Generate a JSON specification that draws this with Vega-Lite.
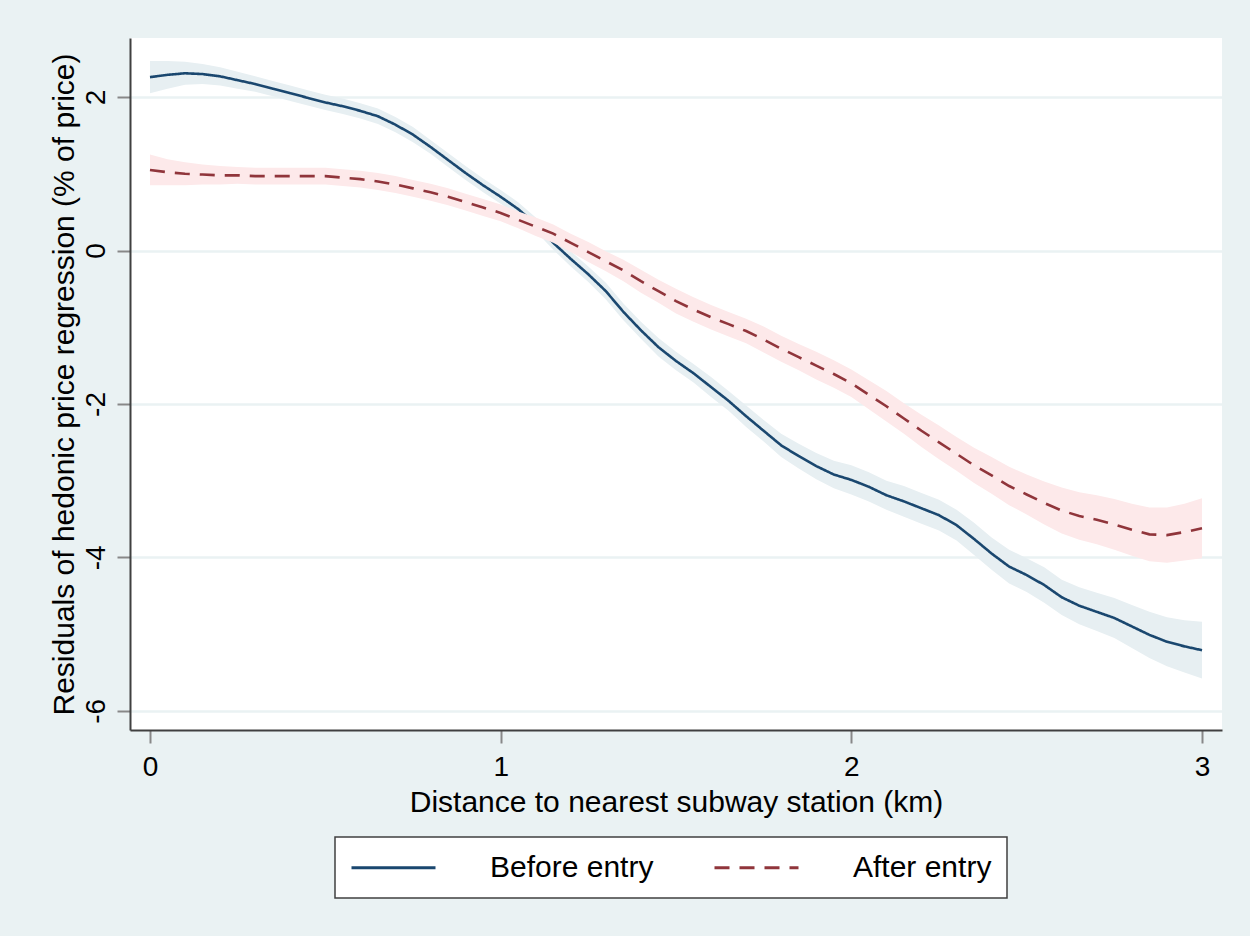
{
"$schema": "https://vega.github.io/schema/vega-lite/v6.json",
"width": 1092, "height": 692,
"autosize": {"type": "none"},
"padding": {"left": 130, "top": 38, "right": 28, "bottom": 206},
"background": "#eaf2f3",
"config": {
  "view": {"fill": "white", "stroke": null},
  "font": "Liberation Sans",
  "axis": {"labelColor": "black", "titleColor": "black", "titleFontWeight": "normal", "tickColor": "#888888", "tickWidth": 2, "tickSize": 13, "domainColor": "#404040", "domainWidth": 2, "labelFontSize": 28, "titleFontSize": 30, "labelFlush": false},
  "legend": {"strokeWidth": 1.5}
},
"data": {"values": [
{"series":"Before entry","x":0.00,"y":2.26,"lo":2.05,"hi":2.47},
{"series":"Before entry","x":0.05,"y":2.29,"lo":2.11,"hi":2.47},
{"series":"Before entry","x":0.10,"y":2.31,"lo":2.16,"hi":2.46},
{"series":"Before entry","x":0.15,"y":2.30,"lo":2.17,"hi":2.43},
{"series":"Before entry","x":0.20,"y":2.27,"lo":2.15,"hi":2.39},
{"series":"Before entry","x":0.25,"y":2.22,"lo":2.11,"hi":2.33},
{"series":"Before entry","x":0.30,"y":2.17,"lo":2.07,"hi":2.27},
{"series":"Before entry","x":0.35,"y":2.11,"lo":2.01,"hi":2.21},
{"series":"Before entry","x":0.40,"y":2.05,"lo":1.95,"hi":2.15},
{"series":"Before entry","x":0.45,"y":1.99,"lo":1.89,"hi":2.09},
{"series":"Before entry","x":0.50,"y":1.93,"lo":1.83,"hi":2.03},
{"series":"Before entry","x":0.55,"y":1.88,"lo":1.78,"hi":1.98},
{"series":"Before entry","x":0.60,"y":1.82,"lo":1.72,"hi":1.92},
{"series":"Before entry","x":0.65,"y":1.75,"lo":1.65,"hi":1.85},
{"series":"Before entry","x":0.70,"y":1.64,"lo":1.54,"hi":1.74},
{"series":"Before entry","x":0.75,"y":1.51,"lo":1.41,"hi":1.61},
{"series":"Before entry","x":0.80,"y":1.35,"lo":1.26,"hi":1.44},
{"series":"Before entry","x":0.85,"y":1.18,"lo":1.09,"hi":1.27},
{"series":"Before entry","x":0.90,"y":1.01,"lo":0.92,"hi":1.10},
{"series":"Before entry","x":0.95,"y":0.85,"lo":0.76,"hi":0.94},
{"series":"Before entry","x":1.00,"y":0.70,"lo":0.61,"hi":0.79},
{"series":"Before entry","x":1.05,"y":0.54,"lo":0.45,"hi":0.63},
{"series":"Before entry","x":1.10,"y":0.34,"lo":0.25,"hi":0.43},
{"series":"Before entry","x":1.15,"y":0.10,"lo":0.01,"hi":0.19},
{"series":"Before entry","x":1.20,"y":-0.11,"lo":-0.21,"hi":-0.01},
{"series":"Before entry","x":1.25,"y":-0.31,"lo":-0.41,"hi":-0.21},
{"series":"Before entry","x":1.30,"y":-0.53,"lo":-0.64,"hi":-0.42},
{"series":"Before entry","x":1.35,"y":-0.80,"lo":-0.91,"hi":-0.69},
{"series":"Before entry","x":1.40,"y":-1.04,"lo":-1.15,"hi":-0.93},
{"series":"Before entry","x":1.45,"y":-1.26,"lo":-1.38,"hi":-1.14},
{"series":"Before entry","x":1.50,"y":-1.44,"lo":-1.56,"hi":-1.32},
{"series":"Before entry","x":1.55,"y":-1.60,"lo":-1.72,"hi":-1.48},
{"series":"Before entry","x":1.60,"y":-1.78,"lo":-1.91,"hi":-1.65},
{"series":"Before entry","x":1.65,"y":-1.96,"lo":-2.09,"hi":-1.83},
{"series":"Before entry","x":1.70,"y":-2.16,"lo":-2.30,"hi":-2.02},
{"series":"Before entry","x":1.75,"y":-2.35,"lo":-2.49,"hi":-2.21},
{"series":"Before entry","x":1.80,"y":-2.54,"lo":-2.69,"hi":-2.39},
{"series":"Before entry","x":1.85,"y":-2.68,"lo":-2.84,"hi":-2.52},
{"series":"Before entry","x":1.90,"y":-2.81,"lo":-2.98,"hi":-2.64},
{"series":"Before entry","x":1.95,"y":-2.92,"lo":-3.10,"hi":-2.74},
{"series":"Before entry","x":2.00,"y":-2.99,"lo":-3.18,"hi":-2.80},
{"series":"Before entry","x":2.05,"y":-3.08,"lo":-3.27,"hi":-2.89},
{"series":"Before entry","x":2.10,"y":-3.19,"lo":-3.38,"hi":-3.00},
{"series":"Before entry","x":2.15,"y":-3.27,"lo":-3.47,"hi":-3.07},
{"series":"Before entry","x":2.20,"y":-3.36,"lo":-3.56,"hi":-3.16},
{"series":"Before entry","x":2.25,"y":-3.45,"lo":-3.65,"hi":-3.25},
{"series":"Before entry","x":2.30,"y":-3.58,"lo":-3.78,"hi":-3.38},
{"series":"Before entry","x":2.35,"y":-3.76,"lo":-3.97,"hi":-3.55},
{"series":"Before entry","x":2.40,"y":-3.95,"lo":-4.16,"hi":-3.74},
{"series":"Before entry","x":2.45,"y":-4.12,"lo":-4.34,"hi":-3.90},
{"series":"Before entry","x":2.50,"y":-4.23,"lo":-4.45,"hi":-4.01},
{"series":"Before entry","x":2.55,"y":-4.36,"lo":-4.59,"hi":-4.13},
{"series":"Before entry","x":2.60,"y":-4.52,"lo":-4.75,"hi":-4.29},
{"series":"Before entry","x":2.65,"y":-4.63,"lo":-4.87,"hi":-4.39},
{"series":"Before entry","x":2.70,"y":-4.71,"lo":-4.96,"hi":-4.46},
{"series":"Before entry","x":2.75,"y":-4.79,"lo":-5.05,"hi":-4.53},
{"series":"Before entry","x":2.80,"y":-4.90,"lo":-5.18,"hi":-4.62},
{"series":"Before entry","x":2.85,"y":-5.01,"lo":-5.31,"hi":-4.71},
{"series":"Before entry","x":2.90,"y":-5.10,"lo":-5.42,"hi":-4.78},
{"series":"Before entry","x":2.95,"y":-5.16,"lo":-5.50,"hi":-4.82},
{"series":"Before entry","x":3.00,"y":-5.21,"lo":-5.58,"hi":-4.84},
{"series":"After entry","x":0.00,"y":1.05,"lo":0.85,"hi":1.25},
{"series":"After entry","x":0.05,"y":1.02,"lo":0.85,"hi":1.19},
{"series":"After entry","x":0.10,"y":1.00,"lo":0.85,"hi":1.15},
{"series":"After entry","x":0.15,"y":0.99,"lo":0.86,"hi":1.12},
{"series":"After entry","x":0.20,"y":0.98,"lo":0.86,"hi":1.10},
{"series":"After entry","x":0.25,"y":0.98,"lo":0.87,"hi":1.09},
{"series":"After entry","x":0.30,"y":0.97,"lo":0.86,"hi":1.08},
{"series":"After entry","x":0.35,"y":0.97,"lo":0.86,"hi":1.08},
{"series":"After entry","x":0.40,"y":0.97,"lo":0.86,"hi":1.08},
{"series":"After entry","x":0.45,"y":0.97,"lo":0.86,"hi":1.08},
{"series":"After entry","x":0.50,"y":0.97,"lo":0.86,"hi":1.08},
{"series":"After entry","x":0.55,"y":0.95,"lo":0.84,"hi":1.06},
{"series":"After entry","x":0.60,"y":0.93,"lo":0.82,"hi":1.04},
{"series":"After entry","x":0.65,"y":0.90,"lo":0.79,"hi":1.01},
{"series":"After entry","x":0.70,"y":0.86,"lo":0.75,"hi":0.97},
{"series":"After entry","x":0.75,"y":0.81,"lo":0.70,"hi":0.92},
{"series":"After entry","x":0.80,"y":0.76,"lo":0.65,"hi":0.87},
{"series":"After entry","x":0.85,"y":0.70,"lo":0.59,"hi":0.81},
{"series":"After entry","x":0.90,"y":0.63,"lo":0.52,"hi":0.74},
{"series":"After entry","x":0.95,"y":0.56,"lo":0.45,"hi":0.67},
{"series":"After entry","x":1.00,"y":0.49,"lo":0.38,"hi":0.60},
{"series":"After entry","x":1.05,"y":0.40,"lo":0.29,"hi":0.51},
{"series":"After entry","x":1.10,"y":0.31,"lo":0.19,"hi":0.43},
{"series":"After entry","x":1.15,"y":0.22,"lo":0.10,"hi":0.34},
{"series":"After entry","x":1.20,"y":0.10,"lo":-0.02,"hi":0.22},
{"series":"After entry","x":1.25,"y":-0.02,"lo":-0.15,"hi":0.11},
{"series":"After entry","x":1.30,"y":-0.14,"lo":-0.27,"hi":-0.01},
{"series":"After entry","x":1.35,"y":-0.26,"lo":-0.40,"hi":-0.12},
{"series":"After entry","x":1.40,"y":-0.40,"lo":-0.55,"hi":-0.25},
{"series":"After entry","x":1.45,"y":-0.53,"lo":-0.68,"hi":-0.38},
{"series":"After entry","x":1.50,"y":-0.66,"lo":-0.82,"hi":-0.50},
{"series":"After entry","x":1.55,"y":-0.77,"lo":-0.93,"hi":-0.61},
{"series":"After entry","x":1.60,"y":-0.87,"lo":-1.03,"hi":-0.71},
{"series":"After entry","x":1.65,"y":-0.96,"lo":-1.12,"hi":-0.80},
{"series":"After entry","x":1.70,"y":-1.05,"lo":-1.21,"hi":-0.89},
{"series":"After entry","x":1.75,"y":-1.16,"lo":-1.33,"hi":-0.99},
{"series":"After entry","x":1.80,"y":-1.28,"lo":-1.45,"hi":-1.11},
{"series":"After entry","x":1.85,"y":-1.39,"lo":-1.56,"hi":-1.22},
{"series":"After entry","x":1.90,"y":-1.50,"lo":-1.68,"hi":-1.32},
{"series":"After entry","x":1.95,"y":-1.61,"lo":-1.79,"hi":-1.43},
{"series":"After entry","x":2.00,"y":-1.73,"lo":-1.91,"hi":-1.55},
{"series":"After entry","x":2.05,"y":-1.88,"lo":-2.07,"hi":-1.69},
{"series":"After entry","x":2.10,"y":-2.03,"lo":-2.23,"hi":-1.83},
{"series":"After entry","x":2.15,"y":-2.19,"lo":-2.39,"hi":-1.99},
{"series":"After entry","x":2.20,"y":-2.35,"lo":-2.56,"hi":-2.14},
{"series":"After entry","x":2.25,"y":-2.50,"lo":-2.72,"hi":-2.28},
{"series":"After entry","x":2.30,"y":-2.65,"lo":-2.87,"hi":-2.43},
{"series":"After entry","x":2.35,"y":-2.80,"lo":-3.03,"hi":-2.57},
{"series":"After entry","x":2.40,"y":-2.93,"lo":-3.17,"hi":-2.69},
{"series":"After entry","x":2.45,"y":-3.07,"lo":-3.32,"hi":-2.82},
{"series":"After entry","x":2.50,"y":-3.18,"lo":-3.44,"hi":-2.92},
{"series":"After entry","x":2.55,"y":-3.29,"lo":-3.57,"hi":-3.01},
{"series":"After entry","x":2.60,"y":-3.39,"lo":-3.69,"hi":-3.09},
{"series":"After entry","x":2.65,"y":-3.46,"lo":-3.77,"hi":-3.15},
{"series":"After entry","x":2.70,"y":-3.51,"lo":-3.83,"hi":-3.19},
{"series":"After entry","x":2.75,"y":-3.57,"lo":-3.90,"hi":-3.24},
{"series":"After entry","x":2.80,"y":-3.64,"lo":-3.98,"hi":-3.30},
{"series":"After entry","x":2.85,"y":-3.70,"lo":-4.05,"hi":-3.35},
{"series":"After entry","x":2.90,"y":-3.71,"lo":-4.07,"hi":-3.35},
{"series":"After entry","x":2.95,"y":-3.67,"lo":-4.04,"hi":-3.30},
{"series":"After entry","x":3.00,"y":-3.62,"lo":-4.01,"hi":-3.23}
]},
"encoding": {
  "x": {"field": "x", "type": "quantitative",
        "scale": {"domain": [-0.057, 3.057], "nice": false, "zero": false},
        "axis": {"values": [0, 1, 2, 3], "grid": false, "labelPadding": 10, "title": "Distance to nearest subway station (km)", "titlePadding": 6}},
  "y": {"field": "y", "type": "quantitative",
        "scale": {"domain": [-6.25, 2.77], "nice": false, "zero": false},
        "axis": {"values": [-6, -4, -2, 0, 2], "grid": true, "gridColor": "#eaf2f3", "gridWidth": 2.5, "labelAngle": -90, "labelAlign": "center", "labelBaseline": "alphabetic", "labelPadding": 13, "labelExpr": "replace(datum.label, '\u2212', '-')", "title": "Residuals of hedonic price regression (% of price)", "titlePadding": 3}}
},
"layer": [
  {"transform": [{"filter": "datum.series == 'Before entry'"}],
   "mark": {"type": "area", "opacity": 1, "fill": "#e7eff2"},
   "encoding": {"y": {"field": "lo", "type": "quantitative"}, "y2": {"field": "hi"}}},
  {"transform": [{"filter": "datum.series == 'Before entry'"}],
   "mark": {"type": "line", "strokeWidth": 2.6},
   "encoding": {
     "stroke": {"field": "series", "type": "nominal", "scale": {"domain": ["Before entry", "After entry"], "range": ["#1a476f", "#90353b"]},
       "legend": {"title": null, "orient": "none", "legendX": 205, "legendY": 799, "direction": "horizontal", "fillColor": "white", "strokeColor": "#404040", "padding": 15, "symbolType": "M-1,0H5", "symbolSize": 784, "symbolStrokeWidth": 3, "labelFontSize": 30, "labelOffset": 109, "labelLimit": 400, "columnPadding": 54, "labelColor": "black"}},
     "strokeDash": {"field": "series", "type": "nominal", "scale": {"domain": ["Before entry", "After entry"], "range": [[1, 0], [15, 10]]},
       "legend": {"title": null, "orient": "none", "legendX": 205, "legendY": 799, "direction": "horizontal", "fillColor": "white", "strokeColor": "#404040", "padding": 15, "symbolType": "M-1,0H5", "symbolSize": 784, "symbolStrokeWidth": 3, "labelFontSize": 30, "labelOffset": 109, "labelLimit": 400, "columnPadding": 54, "labelColor": "black"}}}},
  {"transform": [{"filter": "datum.series == 'After entry'"}],
   "mark": {"type": "area", "opacity": 1, "fill": "#fde9ea"},
   "encoding": {"y": {"field": "lo", "type": "quantitative"}, "y2": {"field": "hi"}}},
  {"transform": [{"filter": "datum.series == 'After entry'"}],
   "mark": {"type": "line", "strokeWidth": 2.6},
   "encoding": {
     "stroke": {"field": "series", "type": "nominal"},
     "strokeDash": {"field": "series", "type": "nominal"}}}
]
}
